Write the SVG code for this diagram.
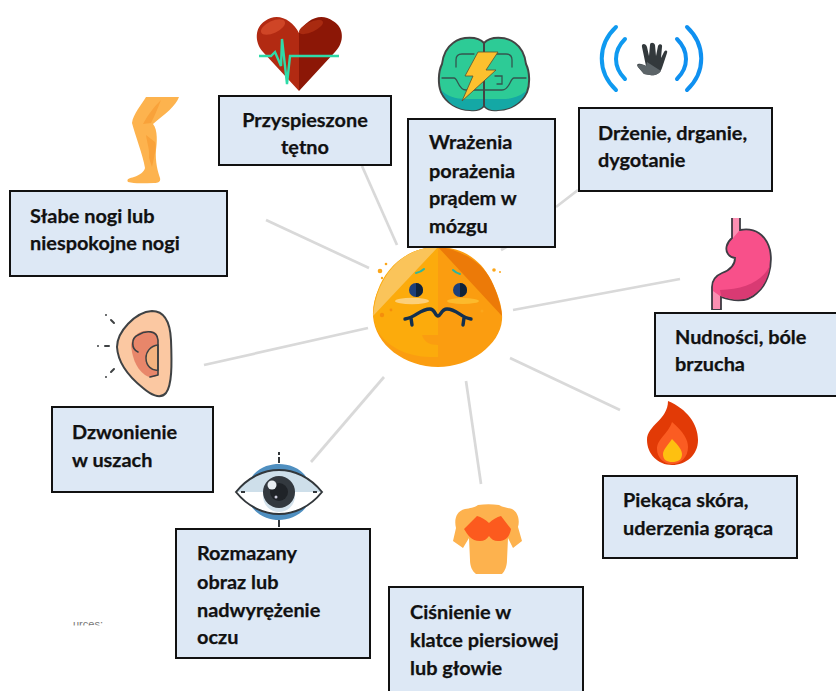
<svg xmlns="http://www.w3.org/2000/svg" width="836" height="691" viewBox="0 0 836 691">
<style>
.b{fill:#dde8f5;stroke:#111;stroke-width:2}
.t{font-family:"Lato","Liberation Sans",sans-serif;font-weight:700;font-size:19.9px;fill:#111;stroke:#111;stroke-width:.25}
.c{stroke:#d9d9d9;stroke-width:2.7;fill:none}
.o{stroke:#3a3f42;stroke-width:1.6;fill:none;stroke-linecap:round;stroke-linejoin:round}
</style>
<defs><clipPath id="cl"><rect x="60" y="620" width="60" height="5.5"/></clipPath></defs>
<rect width="836" height="691" fill="#fff"/>
<g id="connectors">
<line class="c" x1="362" y1="166" x2="397" y2="245"/>
<line class="c" x1="266" y1="220" x2="369" y2="268"/>
<line class="c" x1="578" y1="190" x2="556" y2="207"/>
<line class="c" x1="501" y1="250" x2="508" y2="246"/>
<line class="c" x1="513" y1="310" x2="680" y2="279"/>
<line class="c" x1="510" y1="358" x2="620" y2="410"/>
<line class="c" x1="466" y1="381" x2="481" y2="484"/>
<line class="c" x1="384" y1="377" x2="311" y2="462"/>
<line class="c" x1="368" y1="328" x2="204" y2="365"/>
</g>
<g id="center-face">
<path d="M438 247C465 247 482 262 491 280C498 294 503 308 502 320C500 345 470 367 438 367C405 367 375 345 373 316C372 298 382 280 392 268C404 254 420 247 438 247Z" fill="#fb9d10"/>
<path d="M438 247C405 247 385 270 378 290C372 305 372 320 378 332C392 352 415 358 438 357Z" fill="#fcab0c"/>
<path d="M438 247C420 247 404 254 392 268C382 280 375 294 373 316Z" fill="#fac45a"/>
<path d="M438 247C460 249 482 262 491 280C497 292 501 305 502 316Z" fill="#ec7a08"/>
<path d="M422 335H438V345C430 345 424 342 422 335Z" fill="#fb9d10"/>
<ellipse cx="412" cy="301" rx="17" ry="3.2" fill="#fcd07a"/>
<ellipse cx="463" cy="301" rx="16" ry="3" fill="#fcba2c"/>
<circle cx="416" cy="290" r="7" fill="#1d3f7a"/><path d="M416 283a7 7 0 0 1 0 14Z" fill="#0f2238"/>
<circle cx="460" cy="290" r="7" fill="#1d3f7a"/><path d="M460 283a7 7 0 0 1 0 14Z" fill="#0f2238"/>
<path d="M416 273Q421 272 424 269M453 270Q456 273 460 274" stroke="#2cb5a0" stroke-width="2" fill="none" stroke-linecap="round"/>
<path d="M405 319C415 318 420 309 430 309C435 309 435 316 438 316C441 316 441 309 447 309C457 309 461 318 471 319M411 318L412 325M464 318L463 325" stroke="#12304f" stroke-width="3.4" fill="none" stroke-linecap="round"/>
<circle cx="380" cy="271" r="2.3" fill="#fba61b"/><circle cx="386" cy="264" r="1.3" fill="#fba61b"/><circle cx="382" cy="278" r="1.2" fill="#fba61b"/><circle cx="494" cy="270" r="1.8" fill="#fba61b"/><circle cx="500" cy="272" r="1" fill="#fba61b"/>
<circle cx="382" cy="315" r="2.2" fill="#f58e0c"/><circle cx="391" cy="310" r="1.4" fill="#f58e0c"/><circle cx="482" cy="311" r="1.5" fill="#fba61b"/>
</g>
<g id="node-heart">
<path d="M299 91L263 52C254 42 255 27 265 21C277 12 292 19 299 33Z" fill="#b22a12"/>
<path d="M299 91L335 52C345 42 344 27 333 21C321 12 306 19 299 33Z" fill="#8c1706"/>
<ellipse cx="273" cy="27" rx="13" ry="6" transform="rotate(-25 273 27)" fill="#cf4526"/>
<ellipse cx="311" cy="27" rx="13" ry="5" transform="rotate(-25 311 27)" fill="#a92a10"/>
<path d="M259 56H271L275 52L281 66L282 39L287 84L290 56H339" stroke="#2edba8" stroke-width="2.4" fill="none"/>
<rect x="219" y="96" width="172" height="69" class="b"/>
<text class="t" x="305" y="127" text-anchor="middle">Przyspieszone</text>
<text class="t" x="305" y="154" text-anchor="middle">tętno</text>
</g>
<g id="node-brain">
<path d="M484 43C478 36 462 36 453 43C446 48 443 56 442 64C438 72 438 85 441 92C446 103 458 110 470 110C476 111 481 109 484 106Z" fill="#2dcb96" stroke="#444" stroke-width="2"/>
<path d="M484 43C490 36 506 36 515 43C522 48 525 56 526 64C530 72 530 85 527 92C522 103 510 110 498 110C492 111 487 109 484 106Z" fill="#2dcb96" stroke="#444" stroke-width="2"/>
<path d="M441 90C446 103 458 110 470 110C476 111 481 109 483 106V99H466C455 99 447 96 441 90ZM527 90C522 103 510 110 498 110C492 111 487 109 485 106V99H502C513 99 521 96 527 90Z" fill="#14a8a5"/>
<path d="M442 78H454C458 78 458 90 466 90H483M526 78H514C510 78 510 90 502 90H485M456 67V60C456 56 458 54 462 54H474M512 67V60C512 56 510 54 506 54H494M495 76H502V84H497" stroke="#34564f" stroke-width="1.3" fill="none" stroke-linecap="round"/>
<path d="M478 52H498L486 70H496L462 101L473 76H465Z" fill="#fcc02e" stroke="#5a5030" stroke-width=".8"/>
<rect x="408" y="119" width="147" height="128" class="b"/>
<text class="t" x="429" y="149">Wrażenia</text>
<text class="t" x="429" y="178">porażenia</text>
<text class="t" x="429" y="205">prądem w</text>
<text class="t" x="429" y="233">mózgu</text>
</g>
<g id="node-tremor">
<path d="M616 27C597 45 597 72 616 90M625 39C613 51 613 67 625 79" stroke="#0f9af0" stroke-width="4" fill="none" stroke-linecap="round"/>
<path d="M687 27C706 45 706 72 687 90M677 39C689 51 689 67 677 79" stroke="#0f90f0" stroke-width="4" fill="none" stroke-linecap="round"/>
<path d="M642 47C641 43 646 43 647 47L649 56L650 45C650 42 654 42 655 45L656 56L658 46C659 43 663 44 662 47L661 58L664 52C666 49 668 51 667 53L662 68C660 74 655 76 650 75L644 74L638 67C636 64 638 63 641 64L646 66Z" fill="#33393c"/>
<path d="M638 67L644 74L650 75C655 76 659 74 661 71L647 62L646 66C644 64 636 63 638 67Z" fill="#5c6468"/>
<rect x="579" y="108" width="193" height="83" class="b"/>
<text class="t" x="598" y="140">Drżenie, drganie,</text>
<text class="t" x="598" y="167">dygotanie</text>
</g>
<g id="node-leg">
<path d="M146 97H179C176 106 165 114 153 124C158 130 157 143 156 150C155 162 158 172 160 178C161 182 158 183 154 183C145 183 135 184 128 182C126 179 130 178 134 177C140 175 144 172 145 168C143 155 135 135 132 123C133 114 142 104 146 97Z" fill="#fdb34e"/>
<path d="M161 100C153 108 148 115 143 124L151 123C155 115 158 108 161 100ZM146 135C147 143 150 150 149 158L152 167C154 158 157 147 155 142Z" fill="#f9a23a"/>
<rect x="10" y="191" width="217" height="85" class="b"/>
<text class="t" x="30" y="223">Słabe nogi lub</text>
<text class="t" x="30" y="250">niespokojne nogi</text>
</g>
<g id="node-stomach">
<path d="M732 218V238C726 243 725 250 728 254C731 258 735 258 735 258C735 265 730 270 722 273C715 276 712 280 712 287V309H721V297C735 302 748 302 757 293C768 284 773 265 770 250C766 235 755 227 740 230V218" fill="#f8508a" stroke="#3d3d44" stroke-width="1.8"/>
<path d="M721 296C735 301 748 301 757 292C765 285 769 275 770 265C764 280 745 290 720 290Z" fill="#d93a73"/>
<path d="M733 218H739V231L733 238ZM713 291V309H720V296Z" fill="#fb8fb2"/>
<rect x="655" y="313" width="182" height="83" class="b"/>
<text class="t" x="675" y="344">Nudności, bóle</text>
<text class="t" x="675" y="371">brzucha</text>
</g>
<g id="node-flame">
<path d="M668 401C687 409 698 424 698 440C698 455 686 465 672 465C658 465 647 454 647 440C647 425 668 420 668 401Z" fill="#e23a06"/>
<path d="M672 422C684 432 688 440 688 447C688 457 681 464 672 464C663 464 657 457 657 449C657 439 668 434 672 422Z" fill="#fb5c22"/>
<path d="M672 439C678 445 682 450 682 454C682 460 678 462 672 462C667 462 663 460 663 454C663 450 668 445 672 439Z" fill="#fec010"/>
<rect x="603" y="476" width="194" height="82" class="b"/>
<text class="t" x="623" y="507">Piekąca skóra,</text>
<text class="t" x="623" y="535">uderzenia gorąca</text>
</g>
<g id="node-ear">
<path d="M152 311C163 311 170 320 171 340C172 365 172 385 166 393C160 400 150 394 143 388C133 380 118 365 117 347C117 332 135 312 152 311Z" fill="#fbc8a2" stroke="#3f4244" stroke-width="2"/>
<path d="M144 331C155 330 158 333 158 340V375C153 378 150 378 145 375C135 368 132 355 131 345C132 337 138 332 144 331Z" fill="#e8866a"/>
<path d="M158 345C150 346 146 352 146 358C146 366 152 371 158 370Z" fill="#f3b37f" stroke="#3f4244" stroke-width="1.5"/>
<path d="M138 352C131 349 131 338 138 335C146 330 157 330 158 340V375L150 377" class="o"/>
<path d="M111 320L114 323M106 315v.1M98 346v.1M105 346H109M111 372L114 369M106 377v.1" stroke="#3f4244" stroke-width="2" fill="none" stroke-linecap="round"/>
<rect x="52" y="407" width="161" height="85" class="b"/>
<text class="t" x="72" y="439">Dzwonienie</text>
<text class="t" x="72" y="467">w uszach</text>
</g>
<g id="node-eye">
<path d="M251 478C258 467 270 464 279 464C288 464 300 467 307 478L279 482ZM251 506C258 516 270 520 279 520C288 520 300 516 307 506L279 502Z" fill="#4f8fc0"/>
<path d="M236 492C248 477 264 470 279 470C294 470 310 477 322 492C310 507 294 514 279 514C264 514 248 507 236 492Z" fill="#fff"/>
<path d="M236 492C248 477 264 470 279 470C294 470 310 477 322 492Z" fill="#cedfea"/>
<path d="M236 492C248 477 264 470 279 470C294 470 310 477 322 492C310 507 294 514 279 514C264 514 248 507 236 492Z" fill="none" stroke="#32373b" stroke-width="2"/>
<circle cx="279" cy="496" r="16" fill="#d3e2ec"/>
<circle cx="279" cy="492" r="16" fill="#33393f"/>
<circle cx="279" cy="492" r="9" fill="#1f2328"/>
<circle cx="272" cy="485" r="4.5" fill="#e8eef2"/>
<circle cx="276" cy="497" r="1.5" fill="#ccd"/>
<path d="M241 492H245M313 492H317M279 452V455M279 457V463M279 520V527" stroke="#32373b" stroke-width="2" fill="none"/>
<rect x="176" y="529" width="194" height="129" class="b"/>
<text class="t" x="197" y="560">Rozmazany</text>
<text class="t" x="197" y="589">obraz lub</text>
<text class="t" x="197" y="617">nadwyrężenie</text>
<text class="t" x="197" y="644">oczu</text>
</g>
<g id="node-chest">
<path d="M478 505C485 504 492 504 499 505C504 508 510 508 512 509C518 512 520 520 518 527L522 541L513 548L508 538L507 560C507 566 505 571 502 574H476C472 571 470 566 470 560L469 538L463 548L453 541L456 528C454 520 456 511 465 509C470 508 474 508 478 505Z" fill="#fdb24e"/>
<path d="M477 516C481 517 486 520 489 523C492 520 497 517 501 516L511 529C510 535 507 541 498 541C494 541 491 539 489 536C487 539 484 541 480 541C471 541 468 535 464 529Z" fill="#fc5a1e"/>
<rect x="389" y="587" width="194" height="106" class="b"/>
<text class="t" x="410" y="619">Ciśnienie w</text>
<text class="t" x="410" y="647">klatce piersiowej</text>
<text class="t" x="410" y="675">lub głowie</text>
</g>
<text clip-path="url(#cl)" x="73" y="628" font-family="Liberation Sans, sans-serif" font-size="11" fill="#777">urces:</text>
</svg>
